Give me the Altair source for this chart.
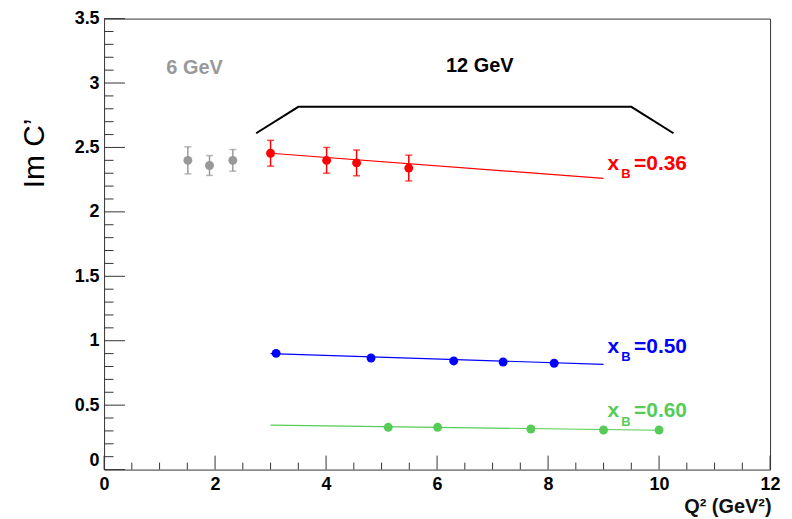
import altair as alt
import pandas as pd

# ---------------- data ----------------
# 6 GeV (gray)
q2_6 = [1.51, 1.90, 2.32]
im_6 = [2.40, 2.36, 2.40]
err_6 = [0.105, 0.077, 0.084]

# 12 GeV, xB = 0.36 (red)
q2_36 = [3.00, 4.01, 4.55, 5.49]
im_36 = [2.455, 2.40, 2.38, 2.34]
err_36 = [0.10, 0.10, 0.10, 0.10]
fit_q2_36 = [3.0, 9.0]
fit_im_36 = [2.455, 2.26]

# xB = 0.50 (blue)
q2_50 = [3.10, 4.81, 6.30, 7.19, 8.11]
im_50 = [0.902, 0.866, 0.843, 0.835, 0.825]
fit_q2_50 = [3.0, 9.0]
fit_im_50 = [0.900, 0.817]

# xB = 0.60 (green)
q2_60 = [5.12, 6.01, 7.69, 9.00, 10.00]
im_60 = [0.328, 0.328, 0.315, 0.307, 0.307]
fit_q2_60 = [3.0, 10.0]
fit_im_60 = [0.345, 0.305]

# "12 GeV" bracket
bracket_q2 = [2.74, 3.50, 9.50, 10.26]
bracket_im = [2.61, 2.815, 2.815, 2.61]

# axis ticks
x_major = [0, 2, 4, 6, 8, 10, 12]
x_minor = [0.5, 1, 1.5, 2.5, 3, 3.5, 4.5, 5, 5.5, 6.5, 7, 7.5, 8.5, 9, 9.5, 10.5, 11, 11.5]
y_major = [0, 0.5, 1, 1.5, 2, 2.5, 3, 3.5]
y_minor = [round(i * 0.1, 1) for i in range(36) if i % 5 != 0]

x_title = "Q² (GeV²)"
y_title = "Im C’"

series_names = ["6 GeV", "xB=0.36", "xB=0.50", "xB=0.60"]
series_colors = ["#999999", "#ff0000", "#0000ff", "#55cc55"]

# ---------------- layout ----------------
W, H = 669, 453
FONT = "Liberation Sans"

xs = alt.Scale(domain=[0, 12], nice=False, zero=False)
ys = alt.Scale(domain=[0, 3.5], nice=False, zero=False)
cs = alt.Scale(domain=series_names, range=series_colors)

# ---------------- tables ----------------
pts = pd.concat([
    pd.DataFrame({"q2": q2_6, "im": im_6, "err": err_6, "s": "6 GeV"}),
    pd.DataFrame({"q2": q2_36, "im": im_36, "err": err_36, "s": "xB=0.36"}),
    pd.DataFrame({"q2": q2_50, "im": im_50, "err": 0.0, "s": "xB=0.50"}),
    pd.DataFrame({"q2": q2_60, "im": im_60, "err": 0.0, "s": "xB=0.60"}),
], ignore_index=True)
pts["lo"] = pts["im"] - pts["err"]
pts["hi"] = pts["im"] + pts["err"]
errs = pts[pts["err"] > 0].copy()

fits = pd.concat([
    pd.DataFrame({"q2": fit_q2_36, "im": fit_im_36, "s": "xB=0.36"}),
    pd.DataFrame({"q2": fit_q2_50, "im": fit_im_50, "s": "xB=0.50"}),
    pd.DataFrame({"q2": fit_q2_60, "im": fit_im_60, "s": "xB=0.60"}),
], ignore_index=True)

bracket = pd.DataFrame({"q2": bracket_q2, "im": bracket_im, "o": list(range(len(bracket_q2)))})

x_axis = alt.Axis(
    values=x_major, format="~g", domain=False, ticks=False, tickSize=0, grid=False,
    labelFont=FONT, labelFontSize=18, labelFontWeight="bold", labelColor="black",
    labelPadding=6, labelFlush=False,
    title=x_title, titleFont=FONT, titleFontSize=20, titleFontWeight="bold",
    titleColor="#111111", titleX=W + 1, titleY=43, titleAlign="right",
    titleBaseline="alphabetic",
)
y_axis = alt.Axis(
    values=y_major, format="~g", domain=False, ticks=False, tickSize=0, grid=False,
    labelFont=FONT, labelFontSize=18, labelFontWeight="bold", labelColor="black",
    labelPadding=5, labelFlush=False,
    labelBaseline={"condition": {"test": "datum.value == 0", "value": "bottom"}, "value": "middle"},
    title=y_title, titleFont=FONT, titleFontSize=30, titleFontWeight="normal",
    titleColor="black", titleAngle=270, titleX=-61, titleY=135, titleAlign="center",
    titleBaseline="alphabetic",
)


def X(field="q2"):
    return alt.X(f"{field}:Q", scale=xs, axis=x_axis)


def Y(field="im"):
    return alt.Y(f"{field}:Q", scale=ys, axis=y_axis)


COL = alt.Color("s:N", scale=cs, legend=None)
AXC = "#333333"

# inside ticks (ROOT style)
ymaj = alt.Chart(pd.DataFrame({"im": y_major})).mark_rule(color=AXC, strokeWidth=1).encode(
    y=Y(), x=alt.value(0), x2=alt.value(21))
ymin = alt.Chart(pd.DataFrame({"im": y_minor})).mark_rule(color=AXC, strokeWidth=1).encode(
    y=Y(), x=alt.value(0), x2=alt.value(9.5))
xmaj = alt.Chart(pd.DataFrame({"q2": x_major})).mark_rule(color=AXC, strokeWidth=1).encode(
    x=X(), y=alt.value(H), y2=alt.value(H - 14))
xmin = alt.Chart(pd.DataFrame({"q2": x_minor})).mark_rule(color=AXC, strokeWidth=1).encode(
    x=X(), y=alt.value(H), y2=alt.value(H - 7))

fit_lines = alt.Chart(fits).mark_line(strokeWidth=1.2).encode(
    x=X(), y=Y(), detail="s:N", color=COL)

bar_rules = alt.Chart(errs).mark_rule(strokeWidth=1.5).encode(
    x=X(), y=Y("lo"), y2="hi:Q", color=COL)
cap_lo = alt.Chart(errs).mark_tick(orient="horizontal", size=7, thickness=1.5).encode(
    x=X(), y=Y("lo"), color=COL)
cap_hi = alt.Chart(errs).mark_tick(orient="horizontal", size=7, thickness=1.5).encode(
    x=X(), y=Y("hi"), color=COL)

points = alt.Chart(pts).mark_circle(size=80, opacity=1).encode(
    x=X(), y=Y(), color=COL)

bracket_line = alt.Chart(bracket).mark_line(color="black", strokeWidth=2).encode(
    x=X(), y=Y(), order="o:Q")

# annotations
energy_labels = pd.DataFrame({
    "q2": [1.63, 6.77], "im": [3.117, 3.13],
    "t": ["6 GeV", "12 GeV"], "c": ["#999999", "#000000"],
})
energy_text = alt.Chart(energy_labels).mark_text(
    font=FONT, fontSize=20, fontWeight="bold", align="center", baseline="middle").encode(
    x=X(), y=Y(), text="t:N", color=alt.Color("c:N", scale=None))

xb_values = ["=0.36", "=0.50", "=0.60"]
xb_colors = ["#ff0000", "#0000ff", "#55cc55"]
xb_base = [2.327, 0.907, 0.405]
xb_rows = []
for v, c, b in zip(xb_values, xb_colors, xb_base):
    xb_rows.append({"q2": 9.07, "im": b, "t": "x", "c": c, "fs": 21})
    xb_rows.append({"q2": 9.32, "im": b - 0.063, "t": "B", "c": c, "fs": 13})
    xb_rows.append({"q2": 9.55, "im": b, "t": v, "c": c, "fs": 21})
xb_text = alt.Chart(pd.DataFrame(xb_rows)).mark_text(
    font=FONT, fontWeight="bold", align="left", baseline="alphabetic").encode(
    x=X(), y=Y(), text="t:N", color=alt.Color("c:N", scale=None),
    size=alt.Size("fs:Q", scale=None))

chart = alt.layer(
    ymaj, ymin, xmaj, xmin, bracket_line, fit_lines, bar_rules, cap_lo, cap_hi, points,
    energy_text, xb_text,
).properties(
    width=W, height=H,
    autosize=alt.AutoSizeParams(type="none"),
    padding={"left": 96.5, "top": 9.5, "right": 14, "bottom": 48},
    background="white",
).configure_view(stroke=AXC, strokeWidth=1)

chart.save("out.html", embed_options={"renderer": "svg", "actions": False})
